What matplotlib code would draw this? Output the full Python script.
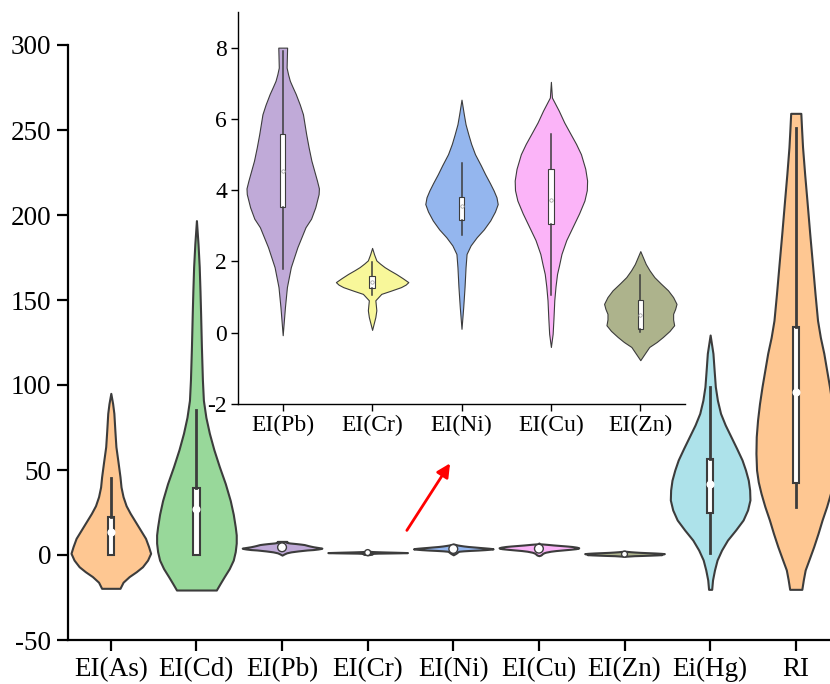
import matplotlib
matplotlib.use("Agg")
import matplotlib.pyplot as plt
import numpy as np

plt.rcParams['font.family'] = ['Liberation Serif', 'DejaVu Serif']
plt.rcParams['axes.unicode_minus'] = False

labels_main = ["EI(As)", "EI(Cd)", "EI(Pb)", "EI(Cr)", "EI(Ni)", "EI(Cu)", "EI(Zn)", "Ei(Hg)", "RI"]
labels_inset = ["EI(Pb)", "EI(Cr)", "EI(Ni)", "EI(Cu)", "EI(Zn)"]
colors = ['#FEC792', '#98D89A', '#C0AAD8', '#F8F79A', '#94B6EE', '#FBB4F8', '#ADB38C', '#ADE2EA', '#FEC792']

# violin outlines: value levels and relative half widths
as_y = [-19.6, -16, -12.7, -9.8, -6.9, -3, 1.0, 4.9, 9.8, 14.7, 19.6, 24.5, 29, 34.3, 40, 46.0, 55, 63.7, 73, 83.3, 89, 95.1]
as_w = [9, 12, 18, 25, 31, 36, 39, 37, 34, 29, 24, 19, 15, 12, 10, 9, 7, 5, 4, 3, 1.8, 0]
cd_y = [-20.6, -16.6, -12.7, -8, -3, 2, 7, 11.8, 16.6, 24, 32, 42, 52, 62, 71.6, 81, 91, 103, 122.5, 142, 155, 169.6, 183, 196.7]
cd_w = [20, 24, 28, 33, 37, 39, 40, 40, 39, 37, 34, 29, 23, 17.5, 13, 9.5, 7, 6, 5, 4.2, 3.6, 2.8, 1.6, 0]
pb_y = [-0.07, 0.72, 1.28, 1.84, 2.4, 2.96, 3.2, 3.52, 3.89, 4.05, 4.27, 4.83, 5.2, 5.57, 6.13, 6.4, 6.7, 6.9, 7.07, 7.25, 7.44, 8.0]
pb_w = [0, 2.3, 4.3, 8.3, 15, 23.3, 29, 33.3, 36.7, 37, 35, 29.3, 26.5, 24, 20.7, 17.5, 13.3, 10, 7.3, 5.5, 4, 4.5]
cr_y = [0.08, 0.44, 0.63, 0.91, 1.09, 1.18, 1.28, 1.35, 1.42, 1.53, 1.65, 1.75, 1.84, 1.94, 2.03, 2.2, 2.38]
cr_w = [0, 3.3, 4.3, 3.3, 9.3, 19, 29.3, 34, 36.7, 31, 24.3, 18, 12.7, 8, 4.3, 2, 0]
ni_y = [0.11, 0.72, 1.28, 1.84, 2.21, 2.45, 2.68, 2.9, 3.15, 3.4, 3.61, 3.8, 3.99, 4.2, 4.45, 4.7, 5.01, 5.3, 5.57, 5.85, 6.13, 6.54]
ni_w = [0, 1.7, 3, 4, 5, 9, 15, 22, 28.3, 33, 35.7, 34.5, 31.7, 28, 23.3, 19, 13.3, 9.5, 6.7, 4, 2.3, 0]
cu_y = [-0.40, -0.03, 0.4, 0.91, 1.3, 1.65, 1.9, 2.21, 2.6, 2.96, 3.35, 3.71, 4.0, 4.27, 4.6, 5.01, 5.3, 5.57, 5.9, 6.23, 6.6, 7.04]
cu_w = [0, 1.7, 2.5, 3.3, 4.5, 6, 8, 10.3, 15, 21, 27.5, 32.7, 35, 35.3, 33.5, 29.3, 24.5, 19.3, 13, 7.7, 1, 0]
zn_y = [-0.77, -0.40, -0.26, -0.12, 0.05, 0.21, 0.37, 0.53, 0.67, 0.81, 1.0, 1.19, 1.38, 1.56, 1.75, 1.93, 2.29]
zn_w = [0, 8.7, 16, 22, 28.5, 33, 32, 32, 34, 35.3, 32, 27, 20, 13.7, 9, 5.3, 0]
hg_y = [-20.2, -14.7, -8.8, -2.9, 2.9, 8.8, 14.7, 20.6, 26.5, 32.4, 38.2, 44, 50, 55.9, 62.7, 69.6, 76.5, 83.3, 91, 99, 109, 118.6, 129.4]
hg_w = [1.5, 2.3, 4.2, 6.7, 11, 16.7, 24.5, 31.7, 36, 38.3, 38, 36.7, 34, 30.7, 25.5, 20, 14.5, 10, 7, 5, 3.8, 2.7, 0]
ri_y = [-20.2, -14.5, -8.8, -2, 4.9, 12.7, 20.6, 28.5, 36.3, 43, 50, 59.8, 69.6, 79.4, 89, 99, 108.8, 118.6, 128, 138, 153.8, 169.6, 189, 208.8, 224, 240, 250, 259.8]
ri_w = [6, 7.5, 9.3, 13.5, 17.7, 22, 26, 30.5, 34.3, 37, 38.7, 39.3, 39, 37.7, 35.8, 33.3, 30.5, 27.7, 24.3, 21.5, 19, 16.7, 13.8, 11, 8.8, 6.7, 5.8, 5]

# box stats: q1, q3, median, whisker low, whisker high
box_main = {
    "EI(As)": [0, 22.5, 13.3, 0, 45.5],
    "EI(Cd)": [0, 39.2, 27, 0, 85.3],
    "Ei(Hg)": [24.9, 56.3, 41.6, 1, 99],
    "RI": [42.5, 134.3, 96, 28.4, 251],
}
box_inset = [
    [3.52, 5.59, 4.53, 1.79, 7.9],
    [1.26, 1.58, 1.42, 1.05, 1.98],
    [3.15, 3.82, 3.55, 2.73, 4.76],
    [3.05, 4.59, 3.73, 1.05, 5.57],
    [0.11, 0.93, 0.5, 0.02, 1.61],
]
medians_big = [13.3, 27, 41.6, 96]
medians_small = [4.53, 1.42, 3.55, 3.73, 0.5]

profiles = [(as_y, as_w), (cd_y, cd_w), (pb_y, pb_w), (cr_y, cr_w), (ni_y, ni_w),
            (cu_y, cu_w), (zn_y, zn_w), (hg_y, hg_w), (ri_y, ri_w)]
inset_profiles = profiles[2:7]


def make_stats(prof):
    out = []
    for y, w in prof:
        y = np.array(y, float)
        out.append(dict(coords=y, vals=np.array(w, float), mean=y.mean(),
                        median=y.mean(), min=y.min(), max=y.max()))
    return out


def box_stats(rows):
    return [dict(q1=r[0], q3=r[1], med=r[2], whislo=r[3], whishi=r[4], fliers=[]) for r in rows]


edge = '#3C3C3C'
fig = plt.figure(figsize=(8.3, 6.84), dpi=100)
ax = fig.add_axes([68 / 830, 44 / 684, 1 - 68 / 830, 595 / 684])

pos = np.arange(1, 10)
parts = ax.violin(make_stats(profiles), positions=pos, widths=0.93,
                  showmeans=False, showextrema=False, showmedians=False)
for body, c in zip(parts['bodies'], colors):
    body.set_facecolor(c)
    body.set_edgecolor(edge)
    body.set_linewidth(1.5)
    body.set_alpha(1)

big = [labels_main.index(k) + 1 for k in box_main]
ax.bxp(box_stats(list(box_main.values())), positions=big, widths=0.075,
       patch_artist=True, showcaps=False, showfliers=False,
       boxprops=dict(facecolor='white', edgecolor=edge, linewidth=1.5),
       whiskerprops=dict(color=edge, linewidth=2),
       medianprops=dict(linewidth=0), manage_ticks=False)
ax.scatter(big, medians_big, s=34, color='white', zorder=5, linewidths=0)
ax.scatter(pos[2:7], medians_small, s=[40, 18, 40, 40, 18], color='white',
           edgecolor=edge, linewidths=1.0, zorder=5)

ax.annotate('', xy=(4.98, 55.3), xytext=(4.44, 13.1),
            arrowprops=dict(arrowstyle='-|>', color='red', lw=2, mutation_scale=20))

ax.set_xlim(0.5, 9.4)
ax.set_ylim(-50, 300)
ax.set_yticks([-50, 0, 50, 100, 150, 200, 250, 300])
ax.set_xticks(pos)
ax.set_xticklabels(labels_main)
ax.spines[['top', 'right']].set_visible(False)
for s in ['left', 'bottom']:
    ax.spines[s].set_linewidth(1.6)
ax.tick_params(axis='both', direction='out', length=8, width=1.6, labelsize=19.5, pad=4)

# inset
ins = fig.add_axes([238 / 830, 280 / 684, 447 / 830, 392 / 684])
ipos = np.arange(1, 6)
iparts = ins.violin(make_stats(inset_profiles), positions=ipos, widths=0.81,
                    showmeans=False, showextrema=False, showmedians=False)
for body, c in zip(iparts['bodies'], colors[2:7]):
    body.set_facecolor(c)
    body.set_edgecolor(edge)
    body.set_linewidth(0.8)
    body.set_alpha(1)
ins.bxp(box_stats(box_inset), positions=ipos, widths=0.06,
        patch_artist=True, showcaps=False, showfliers=False,
        boxprops=dict(facecolor='white', edgecolor=edge, linewidth=0.8),
        whiskerprops=dict(color=edge, linewidth=1.1),
        medianprops=dict(linewidth=0), manage_ticks=False)
ins.scatter(ipos, [r[2] for r in box_inset], s=6, facecolor='white',
            edgecolor='#999999', linewidths=0.5, zorder=5)
ins.set_xlim(0.5, 5.5)
ins.set_ylim(-2, 9)
ins.set_yticks([-2, 0, 2, 4, 6, 8])
ins.set_xticks(ipos)
ins.set_xticklabels(labels_inset)
ins.patch.set_alpha(0)
ins.spines[['top', 'right']].set_visible(False)
for s in ['left', 'bottom']:
    ins.spines[s].set_linewidth(1.0)
ins.tick_params(axis='both', direction='out', length=5, width=1.0, labelsize=17, pad=3)

fig.savefig('out.png', dpi=100)
